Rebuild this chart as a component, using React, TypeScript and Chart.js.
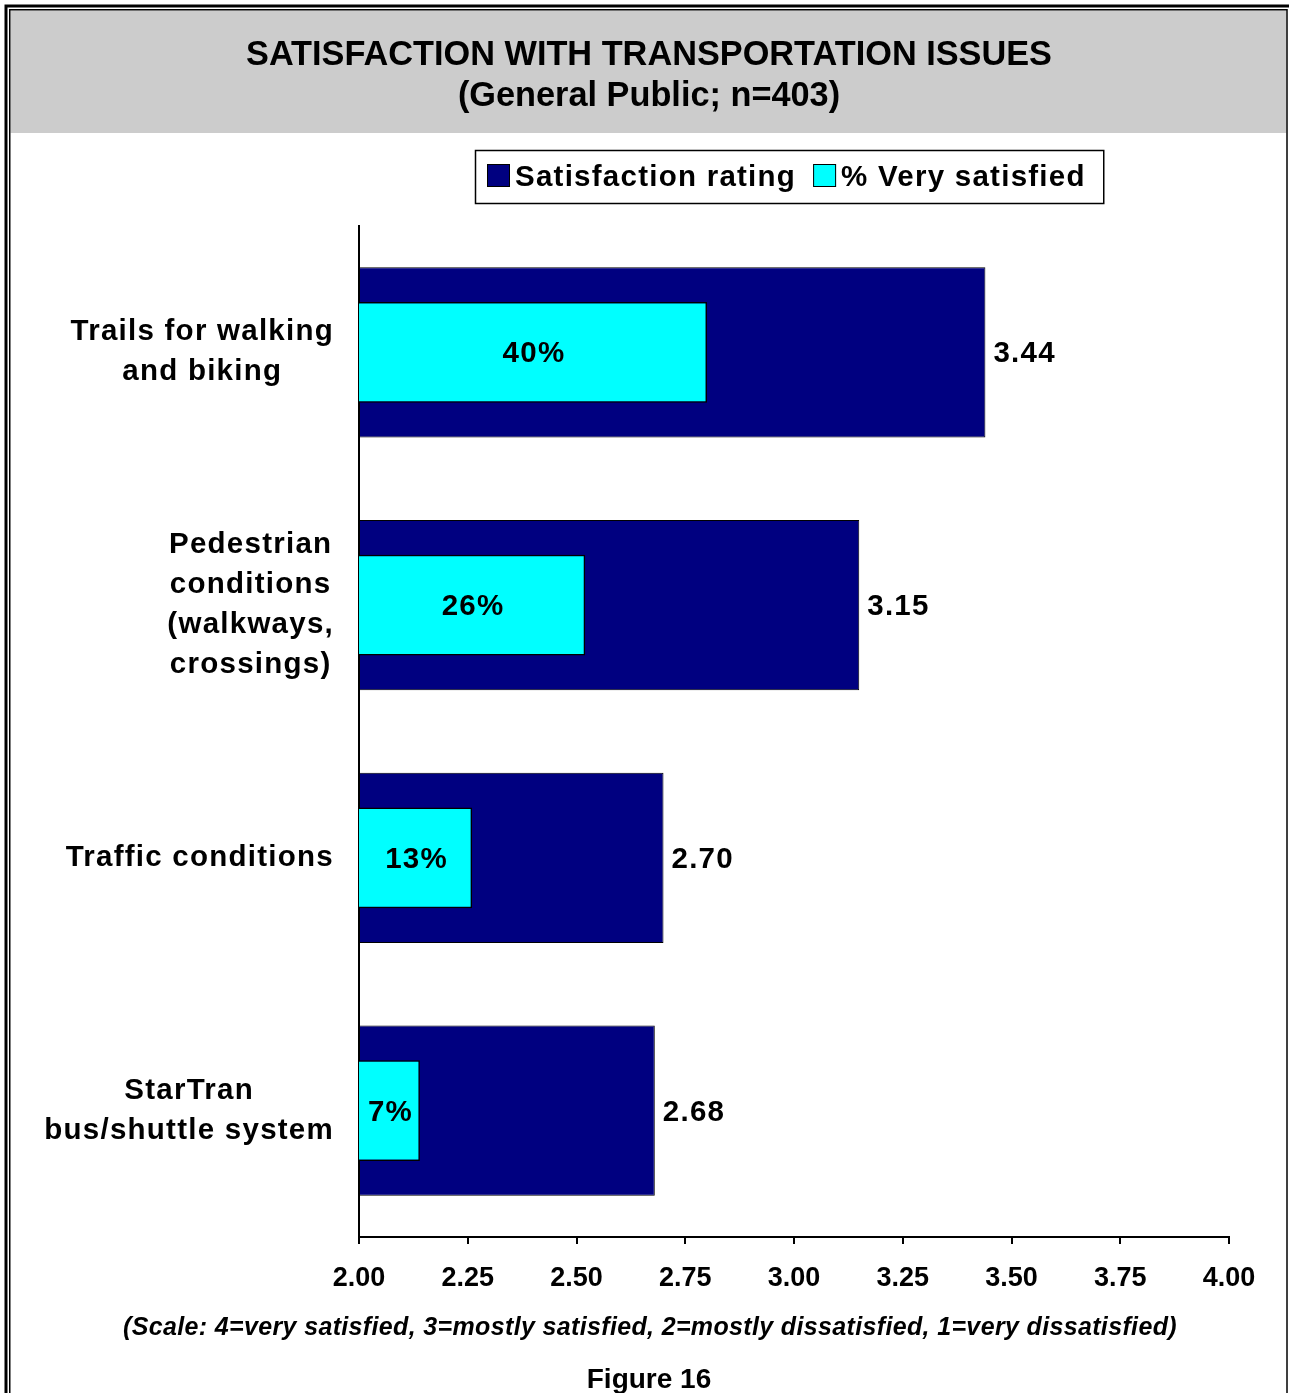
import React, { useEffect, useRef } from "react";
import { Chart, registerables } from "chart.js";

Chart.register(...registerables);

const TITLE_LINES = ["SATISFACTION WITH TRANSPORTATION ISSUES", "(General Public; n=403)"];
const CATEGORIES: string[][] = [
  ["Trails for walking", "and biking"],
  ["Pedestrian", "conditions", "(walkways,", "crossings)"],
  ["Traffic conditions"],
  ["StarTran", "bus/shuttle system"],
];
const RATINGS = [3.44, 3.15, 2.7, 2.68];
const PCT_VERY_SATISFIED = [40, 26, 13, 7];
const SERIES_NAMES = ["Satisfaction rating", "% Very satisfied"];
const X_MIN = 2;
const X_MAX = 4;
const X_STEP = 0.25;
const SCALE_NOTE =
  "(Scale: 4=very satisfied, 3=mostly satisfied, 2=mostly dissatisfied, 1=very dissatisfied)";
const FIGURE_LABEL = "Figure 16";

const W = 1289;
const H = 1393;
const FONT = '"Liberation Sans", Arial, Helvetica, sans-serif';
const NAVY = "#000080";
const CYAN = "#00FFFF";
const GRAY = "#CCCCCC";
const LABEL_FONT = `bold 29.5px ${FONT}`;
const LABEL_SPACING = "1.25px";

const decorPlugin = {
  id: "decor",
  beforeDraw(chart: any) {
    const ctx = chart.ctx as CanvasRenderingContext2D;
    ctx.save();
    ctx.fillStyle = "#FFFFFF";
    ctx.fillRect(0, 0, W, H);
    // gray title band
    ctx.fillStyle = GRAY;
    ctx.fillRect(10.5, 10.5, 1286.3 - 10.5, 133 - 10.5);
    // double frame
    ctx.strokeStyle = "#000";
    ctx.lineWidth = 3;
    ctx.strokeRect(6, 6, W + 20, H + 20);
    ctx.lineWidth = 1.5;
    ctx.strokeRect(9.75, 9.75, 1287 - 9.75, H + 20);
    // title
    ctx.fillStyle = "#000";
    ctx.textAlign = "center";
    ctx.textBaseline = "alphabetic";
    ctx.font = `bold 34.3px ${FONT}`;
    ctx.fillText(TITLE_LINES[0], 649, 65);
    ctx.fillText(TITLE_LINES[1], 649, 106);
    ctx.restore();
  },
  afterDraw(chart: any) {
    const ctx = chart.ctx as CanvasRenderingContext2D;
    const yScale = chart.scales.y;
    const labels = chart.data.labels as string[][];
    ctx.save();
    ctx.fillStyle = "#000";
    ctx.textBaseline = "alphabetic";
    ctx.font = LABEL_FONT;
    (ctx as any).letterSpacing = LABEL_SPACING;

    // category labels: each line centered, block right-aligned
    const rightEdge = 333;
    labels.forEach((lines, i) => {
      const c = yScale.getPixelForValue(i);
      const widths = lines.map((l) => ctx.measureText(l).width);
      const maxW = Math.max(...widths);
      const cx = rightEdge - maxW / 2;
      ctx.textAlign = "center";
      lines.forEach((l, j) => {
        const by = c - (lines.length - 1) * 20 + j * 40 + 8;
        ctx.fillText(l, cx + 1, by);
      });
    });

    // value labels
    const metaNavy = chart.getDatasetMeta(1);
    const metaCyan = chart.getDatasetMeta(0);
    metaNavy.data.forEach((el: any, i: number) => {
      const p = el.getProps(["x", "y"], true);
      ctx.textAlign = "left";
      ctx.fillText(RATINGS[i].toFixed(2), p.x + 8, p.y + 10);
    });
    metaCyan.data.forEach((el: any, i: number) => {
      const p = el.getProps(["x", "y", "base"], true);
      ctx.textAlign = "center";
      ctx.fillText(`${PCT_VERY_SATISFIED[i]}%`, (p.x + p.base) / 2 + 1, p.y + 10);
    });

    // legend
    const boxL = 475.5;
    const boxT = 150.5;
    const boxH = 53;
    const items = [
      { label: chart.data.datasets[1].label, color: NAVY },
      { label: chart.data.datasets[0].label, color: CYAN },
    ];
    let x = boxL + 11.5;
    ctx.textAlign = "left";
    items.forEach((it, k) => {
      ctx.fillStyle = it.color;
      ctx.fillRect(x, 164, 23, 23);
      ctx.strokeStyle = "#000";
      ctx.lineWidth = 1;
      ctx.strokeRect(x + 0.5, 164.5, 22, 22);
      ctx.fillStyle = "#000";
      ctx.fillText(it.label, x + 28, 186);
      x += 28 + ctx.measureText(it.label).width + (k === 0 ? 17 : 0);
    });
    const boxW = x + 18 - boxL;
    ctx.strokeStyle = "#000";
    ctx.lineWidth = 1.5;
    ctx.strokeRect(boxL, boxT, boxW, boxH);

    // footnote and figure label
    (ctx as any).letterSpacing = "0.35px";
    ctx.textAlign = "center";
    ctx.font = `italic bold 25px ${FONT}`;
    ctx.fillText(SCALE_NOTE, 650, 1335);
    (ctx as any).letterSpacing = "0px";
    ctx.font = `bold 28px ${FONT}`;
    ctx.fillText(FIGURE_LABEL, 649, 1388);
    ctx.restore();
  },
};

export default function App() {
  const ref = useRef<HTMLCanvasElement | null>(null);

  useEffect(() => {
    if (!ref.current) return;
    const chart = new Chart(ref.current, {
      type: "bar",
      data: {
        labels: CATEGORIES,
        datasets: [
          {
            label: SERIES_NAMES[1],
            data: PCT_VERY_SATISFIED,
            xAxisID: "x2",
            yAxisID: "y",
            backgroundColor: CYAN,
            borderColor: "#000",
            borderWidth: 1.5,
            barPercentage: 0.398,
            categoryPercentage: 1,
            grouped: false,
            order: 0,
          } as any,
          {
            label: SERIES_NAMES[0],
            data: RATINGS,
            base: X_MIN,
            xAxisID: "x",
            yAxisID: "y",
            backgroundColor: NAVY,
            borderColor: "#000",
            borderWidth: 1,
            barPercentage: 0.673,
            categoryPercentage: 1,
            grouped: false,
            order: 1,
          } as any,
        ],
      },
      options: {
        indexAxis: "y",
        responsive: false,
        animation: false,
        devicePixelRatio: 1,
        layout: { padding: { left: 359, right: 60, top: 226, bottom: 96 } },
        plugins: {
          legend: { display: false },
          title: { display: false },
          tooltip: { enabled: false },
        },
        scales: {
          x: {
            type: "linear",
            position: "bottom",
            min: X_MIN,
            max: X_MAX,
            ticks: {
              stepSize: X_STEP,
              callback: (v: any) => Number(v).toFixed(2),
              color: "#000",
              padding: 18,
              font: { family: FONT, size: 27, weight: "bold" },
            },
            grid: {
              drawOnChartArea: false,
              drawTicks: true,
              tickLength: 7,
              color: "#000",
              lineWidth: 2,
            },
            border: { display: true, color: "#000", width: 2 },
            afterFit: (s: any) => {
              s.height = 60;
            },
          },
          x2: {
            type: "linear",
            min: 0,
            max: 100,
            display: false,
          },
          y: {
            type: "category",
            position: "left",
            ticks: { display: false },
            grid: { display: false },
            border: { display: true, color: "#000", width: 2 },
            afterFit: (s: any) => {
              s.width = 0;
            },
          },
        } as any,
      },
      plugins: [decorPlugin],
    });
    return () => chart.destroy();
  }, []);

  return (
    <div style={{ position: "absolute", left: 0, top: 0, width: W, height: H }}>
      <canvas ref={ref} width={W} height={H} style={{ display: "block", width: W, height: H }} />
    </div>
  );
}
